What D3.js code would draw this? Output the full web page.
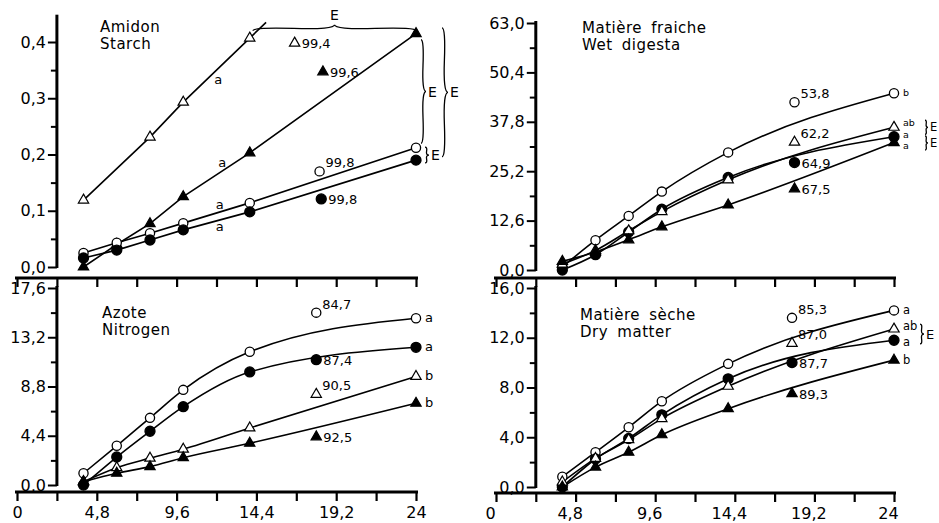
<!DOCTYPE html>
<html>
<head>
<meta charset="utf-8">
<script src="https://cdn.jsdelivr.net/npm/d3@7"></script>
<style>
body { margin: 0; background: #fff; }
svg text { font-family: "DejaVu Sans", sans-serif; fill: #000; }
</style>
</head>
<body>
<div id="chart"></div>
<script>
// sampling times (h)
var hours = [4, 6, 8, 10, 14, 24];
var xTicks = [0, 2.4, 4.8, 7.2, 9.6, 12, 14.4, 16.8, 19.2, 21.6, 24];
var xLabels = ["0", "", "4,8", "", "9,6", "", "14,4", "", "19,2", "", "24"];

// Amidon / Starch
var starchOpenTri    = [0.119, null, 0.231, 0.293, 0.407, null];
var starchFilledTri  = [0.0, 0.04, 0.077, 0.125, 0.203, 0.415];
var starchOpenCirc   = [0.025, 0.043, 0.060, 0.078, 0.114, 0.212];
var starchFilledCirc = [0.016, 0.030, 0.048, 0.066, 0.098, 0.190];
var starchYTicks = [0, 0.1, 0.2, 0.3, 0.4];
var starchYMinor = [0.05, 0.15, 0.25, 0.35];
var starchYLabels = ["0,0", "0,1", "0,2", "0,3", "0,4"];
var starchNotes = [
  {type: "openTri", x: 16.7, v: 0.398, label: "99,4", sup: false},
  {type: "filledTri", x: 18.4, v: 0.347, label: "99,6", sup: false},
  {type: "openCirc", x: 18.2, v: 0.170, label: "99,8", sup: true},
  {type: "filledCirc", x: 18.3, v: 0.121, label: "99,8", sup: false}
];
var starchMidLetters = [
  {x: 12.1, v: 0.332, t: "a"},
  {x: 12.35, v: 0.185, t: "a"},
  {x: 12.2, v: 0.110, t: "a"},
  {x: 12.2, v: 0.071, t: "a"}
];

// Matière fraiche / Wet digesta
var wetOpenCirc   = [0.8, 7.6, 13.8, 20.0, 30.0, 45.1];
var wetFilledCirc = [0.0, 3.9, 9.7, 15.5, 23.6, 34.0];
var wetOpenTri    = [1.5, 5.0, 10.0, 14.9, 23.0, 36.4];
var wetFilledTri  = [2.2, 4.6, 7.7, 11.0, 16.6, 32.5];
var wetYTicks = [0, 12.6, 25.2, 37.8, 50.4, 63];
var wetYMinor = [6.3, 18.9, 31.5, 44.1, 56.7];
var wetYLabels = ["0,0", "12,6", "25,2", "37,8", "50,4", "63,0"];
var wetNotes = [
  {type: "openCirc", x: 18.0, v: 42.8, label: "53,8", sup: true},
  {type: "openTri", x: 18.0, v: 32.6, label: "62,2", sup: true},
  {type: "filledCirc", x: 18.0, v: 27.4, label: "64,9", sup: false},
  {type: "filledTri", x: 18.0, v: 20.7, label: "67,5", sup: false}
];
var wetEndLetters = [
  {v: 45.1, t: "b"}, {v: 37.4, t: "ab"}, {v: 34.5, t: "a"}, {v: 31.6, t: "a"}
];

// Azote / Nitrogen
var nitOpenCirc   = [1.05, 3.5, 6.0, 8.5, 11.9, 14.9];
var nitFilledCirc = [0.0, 2.5, 4.8, 7.0, 10.1, 12.3];
var nitOpenTri    = [0.3, 1.55, 2.4, 3.2, 5.1, 9.7];
var nitFilledTri  = [0.3, 1.05, 1.64, 2.44, 3.73, 7.3];
var nitYTicks = [0, 4.4, 8.8, 13.2, 17.6];
var nitYMinor = [2.2, 6.6, 11, 15.4];
var nitYLabels = ["0,0", "4,4", "8,8", "13,2", "17,6"];
var nitNotes = [
  {type: "openCirc", x: 18.0, v: 15.4, label: "84,7", sup: true},
  {type: "filledCirc", x: 18.0, v: 11.2, label: "87,4", sup: false},
  {type: "openTri", x: 18.0, v: 8.1, label: "90,5", sup: true},
  {type: "filledTri", x: 18.0, v: 4.3, label: "92,5", sup: false}
];
var nitEndLetters = [
  {v: 14.9, t: "a"}, {v: 12.3, t: "a"}, {v: 9.7, t: "b"}, {v: 7.3, t: "b"}
];

// Matière sèche / Dry matter
var dryOpenCirc   = [0.83, 2.8, 4.8, 6.9, 9.9, 14.2];
var dryFilledCirc = [0.0, 2.25, 3.9, 5.8, 8.7, 11.8];
var dryOpenTri    = [0.4, 2.3, 3.8, 5.5, 8.1, 12.7];
var dryFilledTri  = [0.0, 1.6, 2.8, 4.2, 6.3, 10.2];
var dryYTicks = [0, 4, 8, 12, 16];
var dryYMinor = [2, 6, 10, 14];
var dryYLabels = ["0,0", "4,0", "8,0", "12,0", "16,0"];
var dryNotes = [
  {type: "openCirc", x: 17.85, v: 13.6, label: "85,3", sup: true},
  {type: "openTri", x: 17.85, v: 11.55, label: "87,0", sup: true},
  {type: "filledCirc", x: 17.85, v: 10.0, label: "87,7", sup: false},
  {type: "filledTri", x: 17.85, v: 7.5, label: "89,3", sup: false}
];
var dryEndLetters = [
  {v: 14.2, t: "a"}, {v: 12.9, t: "ab"}, {v: 11.6, t: "a"}, {v: 10.2, t: "b"}
];

var width = 939, height = 523;
var svg = d3.select("#chart").append("svg")
    .attr("width", width)
    .attr("height", height);

var panels = [
  {xRange: [17, 416], yRange: [267, 42], yDomain: [0, 0.4], yTop: 0.445, lineTop: 0.435, xAxisY: 278,
   yTicks: starchYTicks, yMinor: starchYMinor, yLabels: starchYLabels, showX: false,
   curve: d3.curveLinear, title: ["Amidon", "Starch"], titleX: 100, titleY: 32, endFont: 13,
   series: [
     {type: "openTri", values: starchOpenTri, extendTop: true},
     {type: "filledTri", values: starchFilledTri},
     {type: "openCirc", values: starchOpenCirc},
     {type: "filledCirc", values: starchFilledCirc}
   ],
   notes: starchNotes, mids: starchMidLetters, ends: [],
   braces: [
     {dir: "h", x1: 14.2, x2: 24, v: 0.42, w: 6, font: 14},
     {dir: "v", dx: 5, v1: 0.404, v2: 0.22, w: 5, font: 14},
     {dir: "v", dx: 9, v1: 0.213, v2: 0.185, w: 4, font: 14},
     {dir: "v", dx: 26, v1: 0.425, v2: 0.196, w: 6, font: 14}
   ]},
  {xRange: [496, 894], yRange: [270, 23], yDomain: [0, 63], yTop: 63, xAxisY: 278,
   yTicks: wetYTicks, yMinor: wetYMinor, yLabels: wetYLabels, showX: false,
   curve: d3.curveMonotoneX, title: ["Matière fraiche", "Wet digesta"], titleX: 582, titleY: 33, endFont: 9.5,
   series: [
     {type: "openCirc", values: wetOpenCirc},
     {type: "filledCirc", values: wetFilledCirc},
     {type: "openTri", values: wetOpenTri},
     {type: "filledTri", values: wetFilledTri}
   ],
   notes: wetNotes, mids: [], ends: wetEndLetters,
   braces: [
     {dir: "v", dx: 31, v1: 38.2, v2: 34.6, w: 3, font: 11.5},
     {dir: "v", dx: 31, v1: 34.2, v2: 30.6, w: 3, font: 11.5}
   ]},
  {xRange: [17, 416], yRange: [485, 288], yDomain: [0, 17.6], yTop: 17.6, xAxisY: 492,
   yTicks: nitYTicks, yMinor: nitYMinor, yLabels: nitYLabels, showX: true, labelDx: 0,
   curve: d3.curveMonotoneX, title: ["Azote", "Nitrogen"], titleX: 102, titleY: 318, endFont: 13,
   series: [
     {type: "openCirc", values: nitOpenCirc},
     {type: "filledCirc", values: nitFilledCirc},
     {type: "openTri", values: nitOpenTri},
     {type: "filledTri", values: nitFilledTri}
   ],
   notes: nitNotes, mids: [], ends: nitEndLetters, braces: []},
  {xRange: [496, 894], yRange: [487, 288], yDomain: [0, 16], yTop: 16, xAxisY: 493,
   yTicks: dryYTicks, yMinor: dryYMinor, yLabels: dryYLabels, showX: true, labelDx: -6,
   curve: d3.curveMonotoneX, title: ["Matière sèche", "Dry matter"], titleX: 580, titleY: 320, endFont: 11.5,
   series: [
     {type: "openCirc", values: dryOpenCirc},
     {type: "filledCirc", values: dryFilledCirc},
     {type: "openTri", values: dryOpenTri},
     {type: "filledTri", values: dryFilledTri}
   ],
   notes: dryNotes, mids: [], ends: dryEndLetters,
   braces: [
     {dir: "v", dx: 26, v1: 13.1, v2: 11.5, w: 4, font: 13}
   ]}
];

// curly brace between (x1,y1) and (x2,y2), bulging to the left of the direction of travel
function bracePath(x1, y1, x2, y2, w, q) {
  var dx = x1 - x2, dy = y1 - y2;
  var len = Math.sqrt(dx * dx + dy * dy);
  dx = dx / len; dy = dy / len;
  var qx1 = x1 + q * w * dy, qy1 = y1 - q * w * dx;
  var qx2 = (x1 - .25 * len * dx) + (1 - q) * w * dy, qy2 = (y1 - .25 * len * dy) - (1 - q) * w * dx;
  var tx1 = (x1 - .5 * len * dx) + w * dy, ty1 = (y1 - .5 * len * dy) - w * dx;
  var qx3 = x2 + q * w * dy, qy3 = y2 - q * w * dx;
  var qx4 = (x1 - .75 * len * dx) + (1 - q) * w * dy, qy4 = (y1 - .75 * len * dy) - (1 - q) * w * dx;
  return "M" + x1 + "," + y1 + "Q" + qx1 + "," + qy1 + " " + qx2 + "," + qy2 + "T" + tx1 + "," + ty1 +
         "M" + x2 + "," + y2 + "Q" + qx3 + "," + qy3 + " " + qx4 + "," + qy4 + "T" + tx1 + "," + ty1;
}

var triangle = d3.symbol().type(d3.symbolTriangle).size(46);

function marker(g, type, cx, cy) {
  var filled = type.indexOf("filled") === 0;
  if (type.indexOf("Circ") > 0) {
    g.append("circle")
        .attr("cx", cx).attr("cy", cy)
        .attr("r", filled ? 5 : 4.6)
        .attr("fill", filled ? "#000" : "#fff")
        .attr("stroke", "#000")
        .attr("stroke-width", 1.3);
  } else {
    g.append("path")
        .attr("d", triangle())
        .attr("transform", "translate(" + cx + "," + cy + ")")
        .attr("fill", filled ? "#000" : "#fff")
        .attr("stroke", "#000")
        .attr("stroke-width", 1.2);
  }
}

panels.forEach(function(p) {
  var g = svg.append("g");
  var x = d3.scaleLinear().domain([0, 24]).range(p.xRange);
  var y = d3.scaleLinear().domain(p.yDomain).range(p.yRange);

  // x axis
  var xAxis = g.append("g")
      .attr("transform", "translate(0," + p.xAxisY + ")")
      .call(d3.axisBottom(x)
        .tickValues(xTicks)
        .tickSize(9)
        .tickSizeOuter(0)
        .tickPadding(6)
        .tickFormat(function(d, i) { return p.showX ? xLabels[i] : ""; }));
  xAxis.select(".domain").attr("stroke-width", 3).attr("d", "M" + (x(0) - 2) + ",0H" + (x(24) + 2));
  xAxis.selectAll(".tick line").attr("stroke-width", 2.2);
  xAxis.selectAll(".tick text")
      .attr("font-size", 16)
      .attr("font-family", "DejaVu Sans, sans-serif")
      .attr("dx", p.labelDx || 0);

  // y axis
  var ax = x(2.4);
  var yAxis = g.append("g")
      .attr("transform", "translate(" + ax + ",0)")
      .call(d3.axisLeft(y)
        .tickValues(p.yTicks)
        .tickSize(9)
        .tickPadding(2)
        .tickFormat(function(d, i) { return p.yLabels[i]; }));
  yAxis.select(".domain").remove();
  yAxis.selectAll(".tick line").attr("stroke-width", 2);
  yAxis.selectAll(".tick text")
      .attr("font-size", 16)
      .attr("font-family", "DejaVu Sans, sans-serif");
  var yMinorAxis = g.append("g")
      .attr("transform", "translate(" + ax + ",0)")
      .call(d3.axisLeft(y).tickValues(p.yMinor).tickSize(6).tickFormat(""));
  yMinorAxis.select(".domain").remove();
  yMinorAxis.selectAll(".tick line").attr("stroke-width", 2);
  g.append("line")
      .attr("x1", ax).attr("x2", ax)
      .attr("y1", y(0) + 1).attr("y2", y(p.yTop) - 2)
      .attr("stroke", "#000")
      .attr("stroke-width", 3);

  // title
  g.append("text")
      .attr("x", p.titleX).attr("y", p.titleY)
      .attr("font-size", 15)
      .attr("letter-spacing", 0.5)
      .attr("word-spacing", 4)
      .text(p.title[0]);
  g.append("text")
      .attr("x", p.titleX).attr("y", p.titleY + 17)
      .attr("font-size", 15)
      .attr("letter-spacing", 0.5)
      .attr("word-spacing", 4)
      .text(p.title[1]);

  var line = d3.line()
      .x(function(d) { return x(d.x); })
      .y(function(d) { return y(d.v); })
      .curve(p.curve);

  // lines
  p.series.forEach(function(s) {
    var pts = hours.map(function(h, i) { return {x: h, v: s.values[i]}; })
        .filter(function(d) { return d.v != null; });
    var linePts = pts.slice();
    if (s.extendTop) {
      // series runs off the top of the scale: continue its last segment up to the frame
      var a = pts[pts.length - 2], b = pts[pts.length - 1];
      var slope = (b.v - a.v) / (b.x - a.x);
      linePts.push({x: b.x + (p.lineTop - b.v) / slope, v: p.lineTop});
    }
    g.append("path")
        .attr("d", line(linePts))
        .attr("fill", "none")
        .attr("stroke", "#000")
        .attr("stroke-width", 1.6);
    s.pts = pts;
  });

  // markers
  p.series.forEach(function(s) {
    s.pts.forEach(function(d) { marker(g, s.type, x(d.x), y(d.v)); });
  });

  // side annotations
  p.notes.forEach(function(n) {
    marker(g, n.type, x(n.x), y(n.v));
    g.append("text")
        .attr("x", x(n.x) + (n.sup ? 6 : 7))
        .attr("y", y(n.v) + (n.sup ? -4 : 5))
        .attr("font-size", 13)
        .text(n.label);
  });

  // significance letters
  p.mids.forEach(function(m) {
    g.append("text")
        .attr("x", x(m.x)).attr("y", y(m.v) + 4)
        .attr("text-anchor", "middle")
        .attr("font-size", 13)
        .text(m.t);
  });
  p.ends.forEach(function(m) {
    g.append("text")
        .attr("x", x(24) + 9).attr("y", y(m.v) + p.endFont * 0.3)
        .attr("font-size", p.endFont)
        .text(m.t);
  });

  // braces
  p.braces.forEach(function(b) {
    var d, lx, ly, anchor = "start";
    if (b.dir === "h") {
      d = bracePath(x(b.x2), y(b.v), x(b.x1), y(b.v), b.w, 0.6);
      lx = (x(b.x1) + x(b.x2)) / 2; ly = y(b.v) - b.w - 5; anchor = "middle";
    } else {
      var bx = x(24) + b.dx;
      d = bracePath(bx, y(b.v2), bx, y(b.v1), b.w, 0.6);
      lx = bx + b.w + 2; ly = (y(b.v1) + y(b.v2)) / 2 + b.font * 0.36;
    }
    g.append("path")
        .attr("d", d)
        .attr("fill", "none")
        .attr("stroke", "#000")
        .attr("stroke-width", 1.3);
    g.append("text")
        .attr("x", lx).attr("y", ly)
        .attr("text-anchor", anchor)
        .attr("font-size", b.font)
        .text("E");
  });
});
</script>
</body>
</html>
